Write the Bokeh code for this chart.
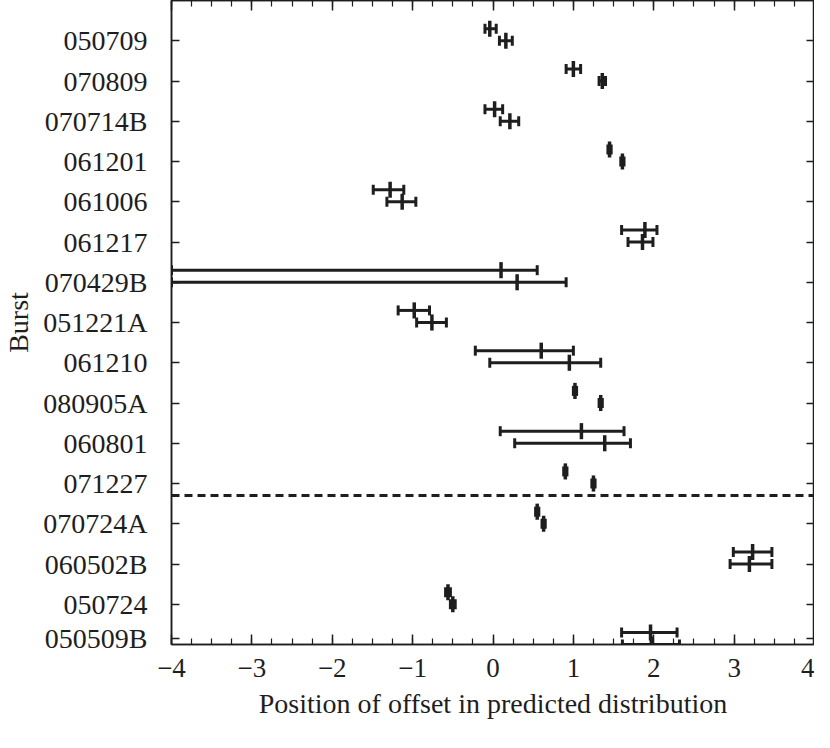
import numpy as np
from bokeh.plotting import figure
from bokeh.models import (ColumnDataSource, Whisker, TeeHead, Span, LinearAxis,
                          FixedTicker, Range1d)
from bokeh.embed import file_html
from bokeh.resources import INLINE

bursts = ["050709", "070809", "070714B", "061201", "061006", "061217", "070429B",
          "051221A", "061210", "080905A", "060801", "071227", "070724A", "060502B",
          "050724", "050509B"]
rows = [15, 14, 13, 12, 11, 10, 9, 8, 7, 6, 5, 4, 3, 2, 1, 0]
label_pos = [15, 14, 13, 12, 11, 10, 9, 8, 7, 6, 5, 4, 3, 2, 1, 0.15]

# first estimate (upper point of each burst)
a_x = [-0.04, 1.00, 0.02, 1.45, -1.28, 1.89, 0.10, -0.98, 0.60, 1.02, 1.10, 0.90, 0.55, 3.23, -0.56, 1.96]
a_lo = [-0.10, 0.91, -0.10, 1.43, -1.49, 1.60, -4.0, -1.18, -0.22, 1.00, 0.09, 0.88, 0.53, 2.99, -0.59, 1.60]
a_hi = [0.04, 1.09, 0.12, 1.47, -1.11, 2.04, 0.55, -0.79, 1.00, 1.04, 1.63, 0.92, 0.57, 3.47, -0.53, 2.29]
# second estimate (lower point of each burst)
b_x = [0.16, 1.36, 0.21, 1.61, -1.13, 1.86, 0.30, -0.76, 0.95, 1.34, 1.39, 1.25, 0.63, 3.19, -0.50, 1.97]
b_lo = [0.08, 1.32, 0.09, 1.59, -1.32, 1.68, -4.0, -0.95, -0.04, 1.32, 0.27, 1.23, 0.61, 2.95, -0.53, 1.61]
b_hi = [0.24, 1.40, 0.32, 1.63, -0.96, 1.99, 0.91, -0.58, 1.34, 1.36, 1.71, 1.27, 0.65, 3.47, -0.47, 2.32]

row_offset_a = 0.3
divider_y = 3.7
x_ticks = [-4, -3, -2, -1, 0, 1, 2, 3, 4]
x_tick_labels = ["\u22124", "\u22123", "\u22122", "\u22121", "0", "1", "2", "3", "4"]

INK = "#1e1e1e"
FONT = "Liberation Serif"

p = figure(width=814, height=732, output_backend="svg", toolbar_location=None,
           x_range=Range1d(-4, 4), y_range=Range1d(0, 16),
           min_border_left=168, min_border_right=0, min_border_top=0, min_border_bottom=88)
p.grid.visible = False
p.outline_line_color = INK
p.outline_line_width = 1.5
p.background_fill_color = "white"
p.border_fill_color = "white"

ya = [r + row_offset_a for r in rows]
yb = list(rows)
src_a = ColumnDataSource(dict(x=a_x, lo=a_lo, hi=a_hi, y=ya,
                              y0=[v - 0.2 for v in ya], y1=[v + 0.2 for v in ya]))
src_b = ColumnDataSource(dict(x=b_x, lo=b_lo, hi=b_hi, y=yb,
                              y0=[v - 0.2 for v in yb], y1=[v + 0.2 for v in yb]))

for src in (src_a, src_b):
    w = Whisker(base="y", lower="lo", upper="hi", dimension="width", source=src,
                line_color=INK, line_width=3,
                lower_head=TeeHead(size=10, line_color=INK, line_width=3),
                upper_head=TeeHead(size=10, line_color=INK, line_width=3))
    p.add_layout(w)
    p.segment(x0="x", y0="y0", x1="x", y1="y1", source=src, line_color=INK, line_width=3.5)

p.add_layout(Span(location=divider_y, dimension="width", line_color=INK,
                  line_width=3, line_dash="8 5"))

minor = list(np.arange(-4, 4.01, 0.25))

xa = p.xaxis[0]
xa.ticker = FixedTicker(ticks=x_ticks, minor_ticks=minor)
xa.major_label_overrides = {t: l for t, l in zip(x_ticks, x_tick_labels)}
xa.axis_label = "Position of offset in predicted distribution"

ya_ax = p.yaxis[0]
ya_ax.ticker = FixedTicker(ticks=label_pos)
ya_ax.major_label_overrides = {t: b for t, b in zip(label_pos, bursts)}
ya_ax.axis_label = "Burst"

top = LinearAxis(ticker=FixedTicker(ticks=x_ticks, minor_ticks=minor))
right = LinearAxis(ticker=FixedTicker(ticks=label_pos))
p.add_layout(top, "above")
p.add_layout(right, "right")

for ax in (xa, ya_ax, top, right):
    ax.axis_line_color = INK
    ax.axis_line_width = 1.5
    ax.major_tick_line_color = INK
    ax.minor_tick_line_color = INK
    ax.major_tick_line_width = 1.5
    ax.minor_tick_line_width = 1.2
    ax.major_tick_in = 10
    ax.major_tick_out = 0
    ax.minor_tick_in = 6
    ax.minor_tick_out = 0
    ax.major_label_text_font = FONT
    ax.axis_label_text_font = FONT
    ax.axis_label_text_font_style = "normal"
    ax.major_label_text_color = INK
    ax.axis_label_text_color = INK

for ax in (ya_ax, right):
    ax.minor_tick_line_color = None
    ax.major_tick_in = 8

for ax in (top, right):
    ax.major_label_text_color = None
    ax.major_label_text_font_size = "1px"
    ax.major_label_standoff = 0

xa.major_label_text_font_size = "27px"
ya_ax.major_label_text_font_size = "28px"
xa.axis_label_text_font_size = "28px"
ya_ax.axis_label_text_font_size = "28px"
xa.major_label_standoff = 14
ya_ax.major_label_standoff = 24
xa.axis_label_standoff = 8
ya_ax.axis_label_standoff = 6

open("out.html", "w").write(file_html(p, INLINE))
